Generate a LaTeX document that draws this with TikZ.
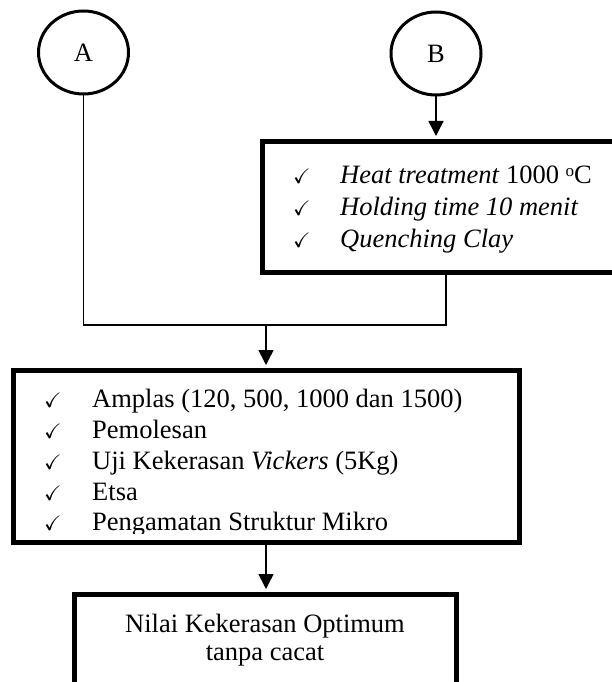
\documentclass[tikz,border=0pt]{standalone}
\usepackage{amssymb}
\usepackage{fontspec}
\setmainfont{Liberation Serif}
\usetikzlibrary{arrows.meta,shapes.geometric}
\begin{document}
\begin{tikzpicture}[x=1pt,y=-1pt,
  every node/.style={font=\fontsize{26.5}{30}\selectfont, inner sep=0pt},
  ring/.style={draw, ellipse, line width=3pt, minimum width=90pt, minimum height=83pt},
  frame/.style={draw, rectangle, line width=5pt},
  conn/.style={line width=1.5pt},
  flow/.style={conn, -{Triangle[width=15pt,length=15pt]}, shorten >=2.5pt},
  tick/.style={anchor=base west, font=\fontsize{21}{24}\selectfont},
  item/.style={anchor=base west},
  line/.style={anchor=base}]
\useasboundingbox (0,0) rectangle (612,682);
% circles
\node[ring] (A) at (83.5,52.5) {};
\node (Al) at (83.5,52.5) {A};
\node[ring] (B) at (436,53.5) {};
\node (Bl) at (436,53.5) {B};
% boxes
\node[frame, minimum width=368pt, minimum height=131pt] (box1) at (446,206.5) {};
\node[frame, minimum width=506pt, minimum height=172pt] (box2) at (266,456) {};
\node[frame, minimum width=382pt, minimum height=106pt] (box3) at (265,647) {};
% box1 text
\node[tick] (c11) at (293,183) {$\checkmark$};
\node[item] (t11) at (340,183) {\itshape Heat treatment\/\upshape{} 1000 {\fontsize{17}{20}\selectfont\raisebox{7pt}{o}}C};
\node[tick] (c12) at (293,215) {$\checkmark$};
\node[item] (t12) at (340,215) {\itshape Holding time 10 menit};
\node[tick] (c13) at (293,247) {$\checkmark$};
\node[item] (t13) at (340,247) {\itshape Quenching Clay};
% box2 text
\node[tick] (c21) at (44,407) {$\checkmark$};
\node[item] (t21) at (92,407) {Amplas (120, 500, 1000 dan 1500)};
\node[tick] (c22) at (44,438) {$\checkmark$};
\node[item] (t22) at (92,438) {Pemolesan};
\node[tick] (c23) at (44,469) {$\checkmark$};
\node[item] (t23) at (92,469) {Uji Kekerasan \textit{Vickers} (5Kg)};
\node[tick] (c24) at (44,500) {$\checkmark$};
\node[item] (t24) at (92,500) {Etsa};
\node[tick] (c25) at (44,530) {$\checkmark$};
\begin{scope}
\clip (0,0) rectangle (612,533);
\node[item] (t25) at (92,530) {Pengamatan Struktur Mikro};
\end{scope}
% box3 text
\node[line] (t31) at (265,632) {Nilai Kekerasan Optimum};
\node[line] (t32) at (265,660) {tanpa cacat};
% connectors
\coordinate (j) at (266,325);
\draw[conn] (A.south) |- (j);
\draw[conn] (box1.south) |- (j);
\draw[flow] (j) -- (box2.north);
\draw[flow] (B.south) -- (B.south |- box1.north);
\draw[flow] (box2.south) -- (box2.south |- box3.north);
\end{tikzpicture}
\end{document}
